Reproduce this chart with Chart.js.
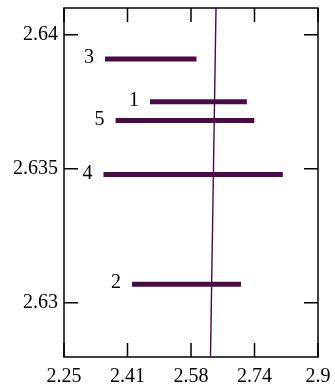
<!DOCTYPE html>
<html>
<head>
<meta charset="utf-8">
<script src="https://cdn.jsdelivr.net/npm/chart.js@4"></script>
<style>
  body { margin: 0; background: #fff; }
</style>
</head>
<body>
<canvas id="chart" width="335" height="387"></canvas>
<script>
// segment data
const segIds = ['1', '2', '3', '4', '5'];
const segY = [2.6375, 2.63069, 2.6391, 2.63478, 2.6368];
const segLow = [2.470, 2.424, 2.355, 2.351, 2.382];
const segHigh = [2.718, 2.703, 2.589, 2.810, 2.737];

// thin reference line
const refX = [2.6249, 2.639];
const refY = [2.628, 2.641];

// axis ticks
const xTicks = [2.25, 2.4125, 2.575, 2.7375, 2.9];
const xTickLabels = ['2.25', '2.41', '2.58', '2.74', '2.9'];
const yTicks = [2.63, 2.635, 2.64];
const yTickLabels = ['2.63', '2.635', '2.64'];

const purple = '#4a0a47';
const serif = 'Liberation Serif';

const datasets = segIds.map((id, i) => ({
    label: id,
    data: [{ x: segLow[i], y: segY[i] }, { x: segHigh[i], y: segY[i] }],
    borderColor: purple,
    borderWidth: 5,
    borderCapStyle: 'butt',
    pointRadius: 0,
    showLine: true
}));
datasets.push({
    label: 'ref',
    data: refX.map((x, i) => ({ x: x, y: refY[i] })),
    borderColor: purple,
    borderWidth: 1.4,
    pointRadius: 0,
    showLine: true
});

// frame, inward ticks and segment labels
const framePlugin = {
    id: 'frame',
    afterDatasetsDraw(chart) {
        const { ctx, chartArea: a, scales } = chart;
        ctx.save();
        ctx.strokeStyle = '#000';
        ctx.lineWidth = 1.5;
        ctx.strokeRect(a.left, a.top, a.right - a.left, a.bottom - a.top);
        const len = 14;
        ctx.beginPath();
        xTicks.forEach(v => {
            const px = scales.x.getPixelForValue(v);
            ctx.moveTo(px, a.bottom); ctx.lineTo(px, a.bottom - len);
            ctx.moveTo(px, a.top); ctx.lineTo(px, a.top + len);
        });
        yTicks.forEach(v => {
            const py = scales.y.getPixelForValue(v);
            ctx.moveTo(a.left, py); ctx.lineTo(a.left + len, py);
            ctx.moveTo(a.right, py); ctx.lineTo(a.right - len, py);
        });
        ctx.stroke();

        ctx.fillStyle = '#000';
        ctx.font = '20px "' + serif + '"';
        ctx.textAlign = 'center';
        ctx.textBaseline = 'middle';
        segIds.forEach((id, i) => {
            const px = scales.x.getPixelForValue(segLow[i]) - 16;
            const py = scales.y.getPixelForValue(segY[i]) - 1;
            ctx.fillText(id, px, py);
        });
        ctx.restore();
    }
};

new Chart(document.getElementById('chart'), {
    type: 'scatter',
    data: { datasets: datasets },
    options: {
        responsive: false,
        animation: false,
        devicePixelRatio: 1,
        layout: { padding: { top: 8, right: 17, left: 0, bottom: 0 } },
        plugins: { legend: { display: false }, tooltip: { enabled: false } },
        scales: {
            x: {
                type: 'linear',
                min: 2.25,
                max: 2.9,
                afterBuildTicks: s => { s.ticks = xTicks.map(v => ({ value: v })); },
                afterFit: s => { s.height = 30; s.paddingLeft = 0; s.paddingRight = 0; },
                grid: { display: false, drawTicks: false },
                border: { display: false },
                ticks: {
                    autoSkip: false,
                    maxRotation: 0,
                    padding: 8,
                    color: '#000',
                    font: { family: serif, size: 20 },
                    callback: (v, i) => xTickLabels[i]
                }
            },
            y: {
                type: 'linear',
                min: 2.62797,
                max: 2.641,
                afterBuildTicks: s => { s.ticks = yTicks.map(v => ({ value: v })); },
                afterFit: s => { s.width = 64; s.paddingTop = 0; s.paddingBottom = 0; },
                grid: { display: false, drawTicks: false },
                border: { display: false },
                ticks: {
                    autoSkip: false,
                    padding: 6,
                    color: '#000',
                    font: { family: serif, size: 20 },
                    callback: (v, i) => yTickLabels[i]
                }
            }
        }
    },
    plugins: [framePlugin]
});
</script>
</body>
</html>
